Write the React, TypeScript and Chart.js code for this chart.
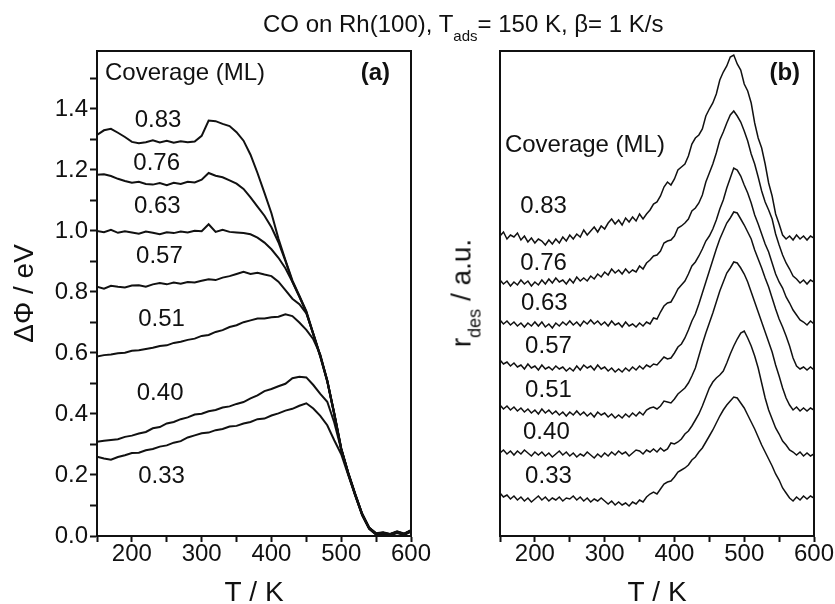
import { useEffect, useRef } from 'react';
import { Chart, registerables } from 'chart.js';

Chart.register(...registerables);

// Temperature grid for panel (a), K
const TEMPS_A = [150, 160, 170, 180, 190, 200, 210, 220, 230, 240, 250, 260, 270, 280, 290, 300, 310, 320, 330, 340, 350, 360, 370, 380, 390, 400, 410, 420, 430, 440, 450, 460, 470, 480, 490, 500, 510, 520, 530, 540, 550, 560, 570, 580, 590, 600];
// Temperature grid for panel (b), K
const TEMPS_B = [150, 155, 160, 165, 170, 175, 180, 185, 190, 195, 200, 205, 210, 215, 220, 225, 230, 235, 240, 245, 250, 255, 260, 265, 270, 275, 280, 285, 290, 295, 300, 305, 310, 315, 320, 325, 330, 335, 340, 345, 350, 355, 360, 365, 370, 375, 380, 385, 390, 395, 400, 405, 410, 415, 420, 425, 430, 435, 440, 445, 450, 455, 460, 465, 470, 475, 480, 485, 490, 495, 500, 505, 510, 515, 520, 525, 530, 535, 540, 545, 550, 555, 560, 565, 570, 575, 580, 585, 590, 595, 600];

const COVERAGES = ['0.83', '0.76', '0.63', '0.57', '0.51', '0.40', '0.33'];

// Panel (a): work-function change ΔΦ (eV)
const DPHI_083 = [1.315, 1.330, 1.335, 1.322, 1.308, 1.292, 1.288, 1.291, 1.297, 1.290, 1.296, 1.289, 1.294, 1.291, 1.293, 1.312, 1.362, 1.360, 1.351, 1.344, 1.324, 1.296, 1.250, 1.190, 1.125, 1.058, 0.975, 0.905, 0.838, 0.788, 0.737, 0.664, 0.592, 0.510, 0.402, 0.287, 0.207, 0.136, 0.071, 0.026, 0.007, 0.010, 0.005, 0.013, 0.006, 0.017];
const DPHI_076 = [1.184, 1.186, 1.180, 1.171, 1.164, 1.158, 1.161, 1.154, 1.152, 1.157, 1.150, 1.158, 1.154, 1.161, 1.159, 1.168, 1.190, 1.181, 1.176, 1.166, 1.155, 1.138, 1.110, 1.080, 1.050, 1.012, 0.963, 0.902, 0.834, 0.786, 0.734, 0.661, 0.589, 0.507, 0.399, 0.284, 0.204, 0.134, 0.069, 0.024, 0.005, 0.008, 0.003, 0.011, 0.004, 0.015];
const DPHI_063 = [1.000, 0.996, 1.004, 0.994, 0.999, 0.995, 0.991, 0.998, 0.994, 0.989, 0.996, 0.993, 0.998, 0.995, 1.001, 0.999, 1.022, 0.997, 1.004, 0.997, 0.995, 0.993, 0.989, 0.978, 0.962, 0.940, 0.912, 0.878, 0.833, 0.784, 0.733, 0.660, 0.588, 0.506, 0.398, 0.283, 0.203, 0.133, 0.068, 0.023, 0.004, 0.007, 0.002, 0.010, 0.003, 0.014];
const DPHI_057 = [0.817, 0.811, 0.820, 0.817, 0.815, 0.821, 0.822, 0.817, 0.825, 0.829, 0.825, 0.831, 0.827, 0.833, 0.831, 0.837, 0.842, 0.839, 0.847, 0.852, 0.859, 0.866, 0.859, 0.863, 0.857, 0.852, 0.834, 0.806, 0.778, 0.760, 0.730, 0.663, 0.591, 0.509, 0.401, 0.286, 0.206, 0.137, 0.072, 0.027, 0.008, 0.011, 0.006, 0.014, 0.007, 0.018];
const DPHI_051 = [0.588, 0.593, 0.595, 0.599, 0.601, 0.607, 0.609, 0.613, 0.617, 0.623, 0.625, 0.633, 0.637, 0.643, 0.647, 0.656, 0.659, 0.669, 0.675, 0.685, 0.691, 0.701, 0.707, 0.713, 0.713, 0.717, 0.719, 0.727, 0.721, 0.700, 0.676, 0.645, 0.595, 0.510, 0.403, 0.288, 0.208, 0.138, 0.073, 0.028, 0.009, 0.012, 0.007, 0.015, 0.008, 0.019];
const DPHI_040 = [0.309, 0.312, 0.315, 0.317, 0.325, 0.329, 0.336, 0.341, 0.353, 0.357, 0.369, 0.374, 0.383, 0.389, 0.398, 0.401, 0.409, 0.413, 0.421, 0.425, 0.433, 0.439, 0.451, 0.461, 0.475, 0.482, 0.491, 0.499, 0.517, 0.522, 0.520, 0.495, 0.466, 0.440, 0.372, 0.284, 0.207, 0.138, 0.073, 0.027, 0.008, 0.011, 0.006, 0.014, 0.007, 0.018];
const DPHI_033 = [0.260, 0.254, 0.250, 0.259, 0.265, 0.272, 0.273, 0.281, 0.285, 0.293, 0.297, 0.306, 0.311, 0.323, 0.330, 0.337, 0.339, 0.347, 0.351, 0.359, 0.361, 0.369, 0.374, 0.383, 0.385, 0.395, 0.402, 0.411, 0.417, 0.427, 0.435, 0.418, 0.394, 0.363, 0.314, 0.268, 0.200, 0.134, 0.070, 0.025, 0.006, 0.009, 0.004, 0.012, 0.005, 0.016];

// Panel (b): desorption rate (a.u., traces offset)
const RDES_083 = [300, 304, 297, 301, 299, 303, 296, 300, 294, 298, 293, 297, 295, 291, 296, 292, 297, 293, 299, 295, 301, 297, 302, 299, 306, 301, 305, 309, 304, 310, 307, 313, 317, 312, 316, 311, 318, 314, 319, 315, 322, 317, 322, 326, 332, 334, 340, 349, 354, 351, 357, 366, 369, 372, 380, 392, 398, 401, 407, 420, 427, 433, 442, 456, 464, 470, 479, 481, 472, 466, 452, 445, 433, 413, 398, 388, 372, 353, 340, 322, 312, 301, 297, 300, 296, 301, 297, 300, 296, 300, 298];
const RDES_076 = [256, 252, 255, 250, 254, 251, 256, 252, 255, 250, 254, 251, 256, 252, 257, 253, 258, 254, 256, 252, 257, 253, 259, 255, 258, 255, 260, 257, 262, 259, 264, 261, 267, 263, 266, 262, 267, 263, 266, 264, 270, 267, 273, 276, 280, 281, 285, 293, 295, 296, 300, 308, 310, 313, 317, 325, 328, 333, 341, 354, 363, 372, 383, 396, 404, 413, 421, 425, 420, 414, 405, 395, 382, 372, 359, 345, 334, 326, 317, 302, 291, 281, 273, 267, 260, 257, 253, 256, 252, 256, 254];
const RDES_063 = [216, 212, 215, 211, 214, 210, 213, 209, 213, 210, 214, 210, 214, 209, 212, 208, 213, 210, 214, 211, 215, 211, 214, 210, 215, 212, 216, 212, 215, 211, 214, 210, 215, 211, 213, 209, 214, 210, 212, 209, 213, 210, 214, 212, 218, 217, 224, 230, 233, 234, 240, 247, 251, 255, 262, 270, 274, 280, 287, 295, 300, 307, 316, 327, 336, 348, 358, 368, 366, 360, 351, 343, 333, 321, 312, 302, 292, 284, 273, 262, 254, 248, 239, 233, 226, 221, 216, 214, 211, 215, 212];
const RDES_057 = [176, 172, 174, 170, 173, 169, 171, 167, 172, 168, 170, 166, 171, 167, 169, 166, 170, 167, 169, 165, 168, 165, 170, 166, 171, 168, 170, 166, 171, 167, 169, 165, 168, 164, 167, 164, 168, 165, 169, 166, 170, 167, 171, 169, 172, 171, 175, 179, 177, 178, 183, 189, 192, 198, 206, 215, 222, 232, 243, 254, 265, 276, 287, 297, 305, 313, 318, 324, 323, 317, 311, 304, 297, 286, 277, 268, 258, 249, 238, 227, 217, 209, 200, 190, 178, 170, 167, 169, 166, 169, 166];
const RDES_051 = [131, 127, 130, 126, 129, 125, 128, 124, 127, 123, 126, 122, 127, 123, 126, 122, 125, 121, 124, 120, 124, 121, 125, 121, 124, 120, 123, 119, 124, 121, 123, 119, 122, 118, 121, 118, 122, 119, 123, 120, 124, 121, 126, 128, 129, 127, 130, 135, 134, 133, 137, 142, 145, 148, 153, 160, 168, 180, 192, 203, 213, 223, 234, 245, 254, 263, 268, 274, 273, 268, 262, 254, 244, 234, 224, 214, 204, 194, 184, 171, 160, 148, 138, 131, 126, 129, 125, 128, 125, 128, 126];
const RDES_040 = [83, 86, 82, 85, 81, 85, 82, 86, 83, 80, 84, 81, 84, 80, 83, 79, 82, 85, 81, 84, 80, 83, 79, 82, 80, 84, 81, 78, 82, 79, 83, 80, 84, 81, 85, 82, 84, 80, 83, 86, 85, 82, 86, 84, 87, 84, 88, 85, 87, 93, 92, 94, 97, 102, 105, 110, 116, 122, 130, 139, 148, 154, 158, 161, 165, 173, 182, 190, 197, 203, 205, 198, 190, 180, 168, 153, 138, 126, 117, 108, 102, 95, 91, 86, 84, 81, 84, 80, 83, 80, 82];
const RDES_033 = [43, 39, 41, 37, 40, 36, 39, 35, 38, 34, 37, 40, 36, 39, 35, 38, 36, 39, 35, 38, 37, 40, 36, 39, 35, 38, 34, 37, 35, 38, 35, 32, 35, 31, 34, 31, 33, 30, 34, 32, 36, 34, 39, 42, 44, 42, 47, 52, 54, 55, 59, 64, 66, 68, 71, 76, 79, 84, 88, 94, 100, 106, 113, 120, 126, 131, 135, 139, 138, 133, 128, 121, 114, 107, 99, 91, 84, 77, 70, 62, 56, 48, 43, 38, 35, 39, 36, 40, 37, 40, 38];

const DPHI_SERIES = [DPHI_083, DPHI_076, DPHI_063, DPHI_057, DPHI_051, DPHI_040, DPHI_033];
const RDES_SERIES = [RDES_083, RDES_076, RDES_063, RDES_057, RDES_051, RDES_040, RDES_033];

// Label anchors in data coordinates
const LABEL_A_T = [204, 202, 203, 206, 209, 207, 209];
const LABEL_A_V = [1.341, 1.2, 1.059, 0.895, 0.689, 0.446, 0.174];
const LABEL_B_T = [179, 179, 180, 186, 186, 183, 186];
const LABEL_B_V = [323, 266, 226, 183, 139, 97, 53];

const FONT = 'Arial, "Liberation Sans", sans-serif';
const INK = '#111';

const framePlugin = {
  id: 'frame',
  afterDraw(chart: any, _args: any, opts: any) {
    const { ctx, chartArea, scales } = chart;
    const { left, top, right, bottom } = chartArea;
    ctx.save();
    ctx.strokeStyle = INK;
    ctx.lineWidth = 2;
    ctx.strokeRect(left, top, right - left, bottom - top);
    ctx.fillStyle = INK;
    ctx.textBaseline = 'alphabetic';
    for (const a of opts.labels || []) {
      ctx.font = `${a.bold ? 'bold ' : ''}24px ${FONT}`;
      ctx.textAlign = a.align || 'left';
      ctx.fillText(a.text, scales.x.getPixelForValue(a.x), scales.y.getPixelForValue(a.y));
    }
    ctx.restore();
  },
};

function makeDatasets(temps: number[], series: number[][], width: number) {
  return series.map((vals, i) => ({
    label: COVERAGES[i],
    data: temps.map((t, j) => ({ x: t, y: vals[j] })),
    borderColor: INK,
    borderWidth: width,
    pointRadius: 0,
    tension: 0,
    fill: false,
  }));
}

function xScale() {
  return {
    type: 'linear',
    min: 150,
    max: 600,
    afterFit: (s: any) => { s.height = 68; },
    ticks: {
      stepSize: 50,
      autoSkip: false,
      maxRotation: 0,
      includeBounds: false,
      color: INK,
      font: { size: 24, family: FONT },
      padding: -2,
      callback: (v: any) => (Math.round(v) % 100 === 0 ? String(Math.round(v)) : ''),
    },
    grid: { drawOnChartArea: false, drawTicks: true, tickLength: 6, tickColor: INK, tickWidth: 2 },
    border: { display: true, color: INK, width: 2 },
    title: { display: true, text: 'T / K', color: INK, font: { size: 28, family: FONT, lineHeight: 1 }, padding: { top: 0, bottom: -3 } },
  };
}

export default function App() {
  const refA = useRef<HTMLCanvasElement>(null);
  const refB = useRef<HTMLCanvasElement>(null);

  useEffect(() => {
    const labelsA: any[] = COVERAGES.map((c, i) => ({ text: c, x: LABEL_A_T[i], y: LABEL_A_V[i] }));
    labelsA.push({ text: 'Coverage (ML)', x: 161.5, y: 1.495 });
    labelsA.push({ text: '(a)', x: 570, y: 1.495, bold: true, align: 'right' });

    const labelsB: any[] = COVERAGES.map((c, i) => ({ text: c, x: LABEL_B_T[i], y: LABEL_B_V[i] }));
    labelsB.push({ text: 'Coverage (ML)', x: 157, y: 384 });
    labelsB.push({ text: '(b)', x: 580, y: 456, bold: true, align: 'right' });

    const chartA = new Chart(refA.current as HTMLCanvasElement, {
      type: 'line',
      data: { datasets: makeDatasets(TEMPS_A, DPHI_SERIES, 2) as any },
      options: {
        responsive: false,
        animation: false,
        devicePixelRatio: 1,
        events: [],
        layout: { padding: { top: 51, right: 39, left: 0, bottom: 0 } },
        plugins: { legend: { display: false }, tooltip: { enabled: false }, frame: { labels: labelsA } } as any,
        scales: {
          x: xScale() as any,
          y: {
            type: 'linear',
            min: 0,
            max: 1.59,
            afterFit: (s: any) => { s.width = 97; },
            ticks: {
              stepSize: 0.1,
              autoSkip: false,
              includeBounds: false,
              color: INK,
              font: { size: 24, family: FONT },
              padding: 2,
              callback: (v: any) => (Math.round(v * 10) % 2 === 0 ? Number(v).toFixed(1) : ''),
            },
            grid: { drawOnChartArea: false, drawTicks: true, tickLength: 7, tickColor: INK, tickWidth: 2 },
            border: { display: true, color: INK, width: 2 },
            title: { display: true, text: 'ΔΦ / eV', color: INK, font: { size: 28, family: FONT, lineHeight: 1.2 }, padding: { top: 8, bottom: 0 } },
          } as any,
        },
      },
      plugins: [framePlugin],
    });

    const chartB = new Chart(refB.current as HTMLCanvasElement, {
      type: 'line',
      data: { datasets: makeDatasets(TEMPS_B, RDES_SERIES, 1.5) as any },
      options: {
        responsive: false,
        animation: false,
        devicePixelRatio: 1,
        events: [],
        layout: { padding: { top: 51, right: 21, left: 0, bottom: 0 } },
        plugins: { legend: { display: false }, tooltip: { enabled: false }, frame: { labels: labelsB } } as any,
        scales: {
          x: xScale() as any,
          y: {
            type: 'linear',
            min: 0,
            max: 485,
            afterFit: (s: any) => { s.width = 80; },
            ticks: { display: false },
            grid: { drawOnChartArea: false, drawTicks: false },
            border: { display: true, color: INK, width: 2 },
            title: { display: false },
          } as any,
        },
      },
      plugins: [framePlugin],
    });

    return () => {
      chartA.destroy();
      chartB.destroy();
    };
  }, []);

  return (
    <div style={{ position: 'absolute', left: 0, top: 0, width: 835, height: 604, background: '#fff', overflow: 'hidden', fontFamily: FONT, color: INK }}>
      <canvas ref={refA} width={450} height={604} style={{ position: 'absolute', left: 0, top: 0 }} />
      <canvas ref={refB} width={415} height={604} style={{ position: 'absolute', left: 420, top: 0 }} />
      <div style={{ position: 'absolute', left: 263, top: 12, fontSize: 24, lineHeight: '24px', whiteSpace: 'nowrap' }}>
        CO on Rh(100), T<span style={{ fontSize: 15, position: 'relative', top: 9 }}>ads</span>= 150 K, β= 1 K/s
      </div>
      <div style={{ position: 'absolute', left: 463, top: 293, fontSize: 28, lineHeight: '28px', whiteSpace: 'nowrap', transform: 'translate(-50%, -50%) rotate(-90deg)' }}>
        r<span style={{ fontSize: 18, position: 'relative', top: 10 }}>des</span> / a.u.
      </div>
    </div>
  );
}
